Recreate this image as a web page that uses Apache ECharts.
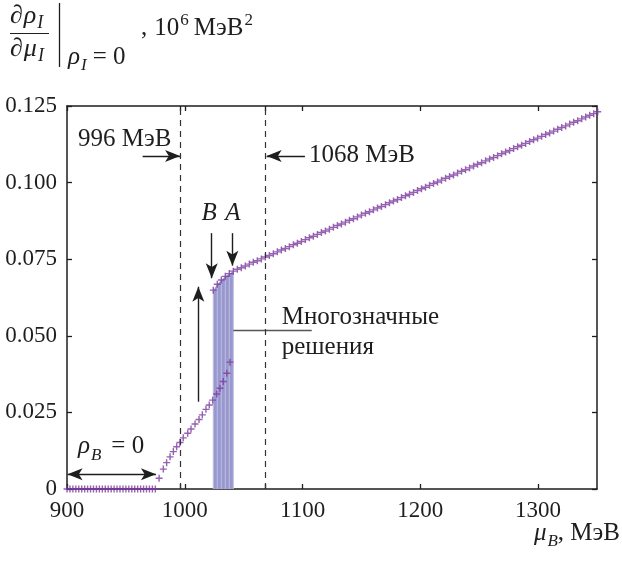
<!DOCTYPE html>
<html><head><meta charset="utf-8">
<script src="https://cdn.jsdelivr.net/npm/echarts@6/dist/echarts.min.js"></script>
<style>html,body{margin:0;padding:0;background:#fff}#main{width:622px;height:564px}</style>
</head><body><div id="main"></div>
<script>
// ---- data ----
const zeroX = [900, 902.5, 905, 907.5, 910, 912.5, 915, 917.5, 920, 922.5, 925, 927.5, 930, 932.5, 935, 937.5, 940, 942.5, 945, 947.5, 950, 952.5, 955, 957.5, 960, 962.5, 965, 967.5, 970, 972.5, 975];
const zeroY = zeroX.map(() => 0);
const lowerX = [978.2, 981.8, 984.6, 987.5, 990.3, 993.1, 995.9, 998.7, 1002.5, 1005.3, 1008.7, 1012.1, 1014.9, 1018.0, 1020.8, 1023.7, 1027.1, 1029.9, 1032.7, 1035.6, 1038.4];
const lowerY = [0.0035, 0.0065, 0.0086, 0.0105, 0.0122, 0.0138, 0.0152, 0.0167, 0.0182, 0.0196, 0.0212, 0.0227, 0.0242, 0.0260, 0.0274, 0.0290, 0.0310, 0.0329, 0.0351, 0.0378, 0.0414];
const upperX = [1024.2, 1027.6, 1031.0, 1034.4, 1037.8, 1041.2, 1044.6, 1048.0, 1051.4, 1054.8, 1058.2, 1061.6, 1065.0, 1068.4, 1071.8, 1075.2, 1078.6, 1082.0, 1085.4, 1088.8, 1092.2, 1095.6, 1099.0, 1102.4, 1105.8, 1109.2, 1112.6, 1116.0, 1119.4, 1122.8, 1126.2, 1129.6, 1133.0, 1136.4, 1139.8, 1143.2, 1146.6, 1150.0, 1153.4, 1156.8, 1160.2, 1163.6, 1167.0, 1170.4, 1173.8, 1177.2, 1180.6, 1184.0, 1187.4, 1190.8, 1194.2, 1197.6, 1201.0, 1204.4, 1207.8, 1211.2, 1214.6, 1218.0, 1221.4, 1224.8, 1228.2, 1231.6, 1235.0, 1238.4, 1241.8, 1245.2, 1248.6, 1252.0, 1255.4, 1258.8, 1262.2, 1265.6, 1269.0, 1272.4, 1275.8, 1279.2, 1282.6, 1286.0, 1289.4, 1292.8, 1296.2, 1299.6, 1303.0, 1306.4, 1309.8, 1313.2, 1316.6, 1320.0, 1323.4, 1326.8, 1330.2, 1333.6, 1337.0, 1340.4, 1343.8, 1347.2, 1350.6];
const upperY = [0.0649, 0.0668, 0.0682, 0.0694, 0.0703, 0.0711, 0.0717, 0.0722, 0.0728, 0.0734, 0.0740, 0.0745, 0.0751, 0.0757, 0.0762, 0.0768, 0.0774, 0.0780, 0.0785, 0.0791, 0.0797, 0.0802, 0.0808, 0.0814, 0.0820, 0.0825, 0.0831, 0.0837, 0.0842, 0.0848, 0.0854, 0.0860, 0.0865, 0.0871, 0.0877, 0.0882, 0.0888, 0.0894, 0.0900, 0.0905, 0.0911, 0.0917, 0.0922, 0.0928, 0.0934, 0.0940, 0.0945, 0.0951, 0.0957, 0.0962, 0.0968, 0.0974, 0.0980, 0.0985, 0.0991, 0.0997, 0.1002, 0.1008, 0.1014, 0.1020, 0.1025, 0.1031, 0.1037, 0.1042, 0.1048, 0.1054, 0.1060, 0.1065, 0.1071, 0.1077, 0.1082, 0.1088, 0.1094, 0.1100, 0.1105, 0.1111, 0.1117, 0.1122, 0.1128, 0.1134, 0.1140, 0.1145, 0.1151, 0.1157, 0.1162, 0.1168, 0.1174, 0.1180, 0.1185, 0.1191, 0.1197, 0.1202, 0.1208, 0.1214, 0.1220, 0.1225, 0.1231];
// multivalued region (shaded): upper-branch points between B and A
const bandX = [1024.2, 1027.6, 1031.0, 1034.4, 1037.8, 1041.2];
const bandY = [0.0649, 0.0668, 0.0682, 0.0694, 0.0703, 0.0711];

const xTickValues = [900, 996, 1000, 1068, 1100, 1200, 1300];
const xLabelValues = [900, 1000, 1100, 1200, 1300];
const yTickLabels = ['0', '0.025', '0.050', '0.075', '0.100', '0.125'];
const guideX = [996, 1068];

// annotation geometry in data coordinates [MeV, value]
const arrows = [
  { from: [964.2, 0.1087], to: [996, 0.1087], both: false },
  { from: [1102, 0.1087], to: [1069.5, 0.1087], both: false },
  { from: [1022.9, 0.0835], to: [1022.9, 0.0688], both: false },
  { from: [1040.4, 0.0835], to: [1040.4, 0.0729], both: false },
  { from: [1011.5, 0.0285], to: [1011.5, 0.0660], both: false },
  { from: [900.5, 0.0048], to: [975.5, 0.0048], both: true }
];
const leader = [[1041.2, 0.0519], [1107.8, 0.0519]];

// ---- rendering ----
const FONT = '"Liberation Serif", "Times New Roman", serif';
const INK = '#1e1e1e';
const PURPLE = '#7a3a9c';
const FS = 23;   // tick labels
const FA = 25;   // annotations
const chart = echarts.init(document.getElementById('main'));
const cross = 'path://M5,0L5,10M0,5L10,5';
const markerStyle = { color: 'rgba(0,0,0,0)', borderColor: PURPLE, borderWidth: 1.4 };
const pairs = (xs, ys) => xs.map((x, i) => [x, ys[i]]);

const axisCommon = {
  type: 'value', min: 900, max: 1350, interval: 100,
  axisLine: { show: true, onZero: false, lineStyle: { color: INK, width: 1.5 } },
  splitLine: { show: false }
};

const markLineData = arrows.map(a => [
  { coord: a.from, symbol: a.both ? 'arrow' : 'none', symbolSize: [9, 15] },
  { coord: a.to, symbol: 'arrow', symbolSize: [9, 15] }
]);
markLineData.push([{ coord: leader[0], lineStyle: { color: '#555', width: 1.3, type: 'solid' } }, { coord: leader[1] }]);
guideX.forEach(gx => markLineData.push({ xAxis: gx, lineStyle: { type: [6, 5], color: '#333', width: 1.2 } }));

chart.setOption({
  animation: false,
  grid: { left: 67, right: 25, top: 106, bottom: 75 },
  xAxis: [
    Object.assign({}, axisCommon, {
      position: 'bottom',
      axisTick: { show: true, inside: true, length: 5, customValues: xTickValues, lineStyle: { color: INK, width: 1.3 } },
      axisLabel: { customValues: xLabelValues, margin: 10, fontFamily: FONT, fontSize: FS, color: INK, formatter: v => String(v) }
    }),
    Object.assign({}, axisCommon, {
      position: 'top',
      axisTick: { show: true, inside: true, length: 5, customValues: xTickValues, lineStyle: { color: INK, width: 1.3 } },
      axisLabel: { show: false }
    })
  ],
  yAxis: [0, 1].map(k => ({
    type: 'value', min: 0, max: 0.125, interval: 0.025,
    position: k === 0 ? 'left' : 'right',
    axisLine: { show: true, onZero: false, lineStyle: { color: INK, width: 1.5 } },
    axisTick: { show: true, inside: true, length: 5, lineStyle: { color: INK, width: 1.3 } },
    axisLabel: k === 0 ? { margin: 10, fontFamily: FONT, fontSize: FS, color: INK,
      formatter: v => yTickLabels[Math.round(v / 0.025)] } : { show: false },
    splitLine: { show: false }
  })),
  series: [
    {
      type: 'line', name: 'band', data: pairs(bandX, bandY), symbol: 'none', z: 1,
      lineStyle: { width: 0, opacity: 0 }, areaStyle: { color: '#9898cf', opacity: 1 },
      markLine: {
        silent: true, z: 5, label: { show: false }, symbol: ['none', 'none'],
        lineStyle: { color: INK, width: 1.4, type: 'solid' },
        data: markLineData
      }
    },
    {
      type: 'bar', name: 'stripes', data: pairs(bandX, bandY), barWidth: 1, z: 2,
      itemStyle: { color: '#bdbde3' }
    },
    { type: 'scatter', data: pairs(zeroX, zeroY), symbol: cross, symbolSize: 7, itemStyle: markerStyle, z: 3, clip: false },
    { type: 'scatter', data: pairs(lowerX, lowerY), symbol: cross, symbolSize: 7, itemStyle: markerStyle, z: 3 },
    { type: 'scatter', data: pairs(upperX, upperY), symbol: cross, symbolSize: 7, itemStyle: markerStyle, z: 3, clip: false }
  ]
});

// ---- text annotations ----
const ctx = document.createElement('canvas').getContext('2d');
const fontStr = (size, italic) => (italic ? 'italic ' : '') + size + 'px ' + FONT;
function textRun(x, baseline, parts, align) {
  // part: [text, size, italic, dyFromBaseline, gapAfter]
  const widths = parts.map(p => { ctx.font = fontStr(p[1], p[2]); return ctx.measureText(p[0]).width + (p[4] || 0); });
  const total = widths.reduce((a, b) => a + b, 0);
  let cx = align === 'right' ? x - total : align === 'center' ? x - total / 2 : x;
  return parts.map((p, i) => {
    const el = { type: 'text', silent: true, x: cx, y: baseline + (p[3] || 0) - 0.34 * p[1],
      style: { text: p[0], font: fontStr(p[1], p[2]), fill: INK, align: 'left', textAlign: 'left', verticalAlign: 'middle', textVerticalAlign: 'middle' } };
    cx += widths[i];
    return el;
  });
}
const px = c => chart.convertToPixel({ gridIndex: 0 }, c);

const g = [];
// title (y-axis quantity)
g.push(...textRun(10, 25, [['∂', 26, true, 0, 1], ['ρ', 26, true, 0, 1], ['I', 18, true, 4]]));
g.push(...textRun(10, 58, [['∂', 26, true, 0, 1], ['μ', 26, true, 0, 1], ['I', 18, true, 4]]));
g.push({ type: 'line', silent: true, shape: { x1: 10, y1: 33.5, x2: 49, y2: 33.5 }, style: { stroke: INK, lineWidth: 1.2 } });
g.push({ type: 'line', silent: true, shape: { x1: 59.5, y1: 3, x2: 59.5, y2: 67 }, style: { stroke: INK, lineWidth: 1.3 } });
g.push(...textRun(68, 66, [['ρ', 25, true, 0, 1], ['I', 17, true, 5, 6], ['= 0', 25, false]]));
g.push(...textRun(141, 37, [[',', 25, false, 0, 7], ['10', 25, false, 0, 1], ['6', 17, false, -11, 5], ['МэВ', 25, false, 0, 1], ['2', 17, false, -11]]));
// x-axis name
g.push(...textRun(620, 542, [['μ', 25, true, 0, 1], ['B', 17, true, 5], [', ', 25, false], ['МэВ', 25, false]], 'right'));

// data-anchored labels
let p;
p = px([909.3, 0.1112]); g.push(...textRun(p[0], p[1], [['996 МэВ', FA, false]]));
p = px([1105.5, 0.1061]); g.push(...textRun(p[0], p[1], [['1068 МэВ', FA, false]]));
p = px([1020.7, 0.0873]); g.push(...textRun(p[0], p[1], [['B', FA, true]], 'center'));
p = px([1040.8, 0.0873]); g.push(...textRun(p[0], p[1], [['A', FA, true]], 'center'));
p = px([909.3, 0.0111]); g.push(...textRun(p[0], p[1], [['ρ', FA, true, 0, 1], ['B', 17, true, 6, 10], ['= 0', FA, false]]));
p = px([1082.3, 0.0533]); g.push(...textRun(p[0], p[1], [['Многозначные', 25, false]]));
p = px([1082.3, 0.0435]); g.push(...textRun(p[0], p[1], [['решения', 25, false]]));

chart.setOption({ graphic: g });
</script>
</body></html>
